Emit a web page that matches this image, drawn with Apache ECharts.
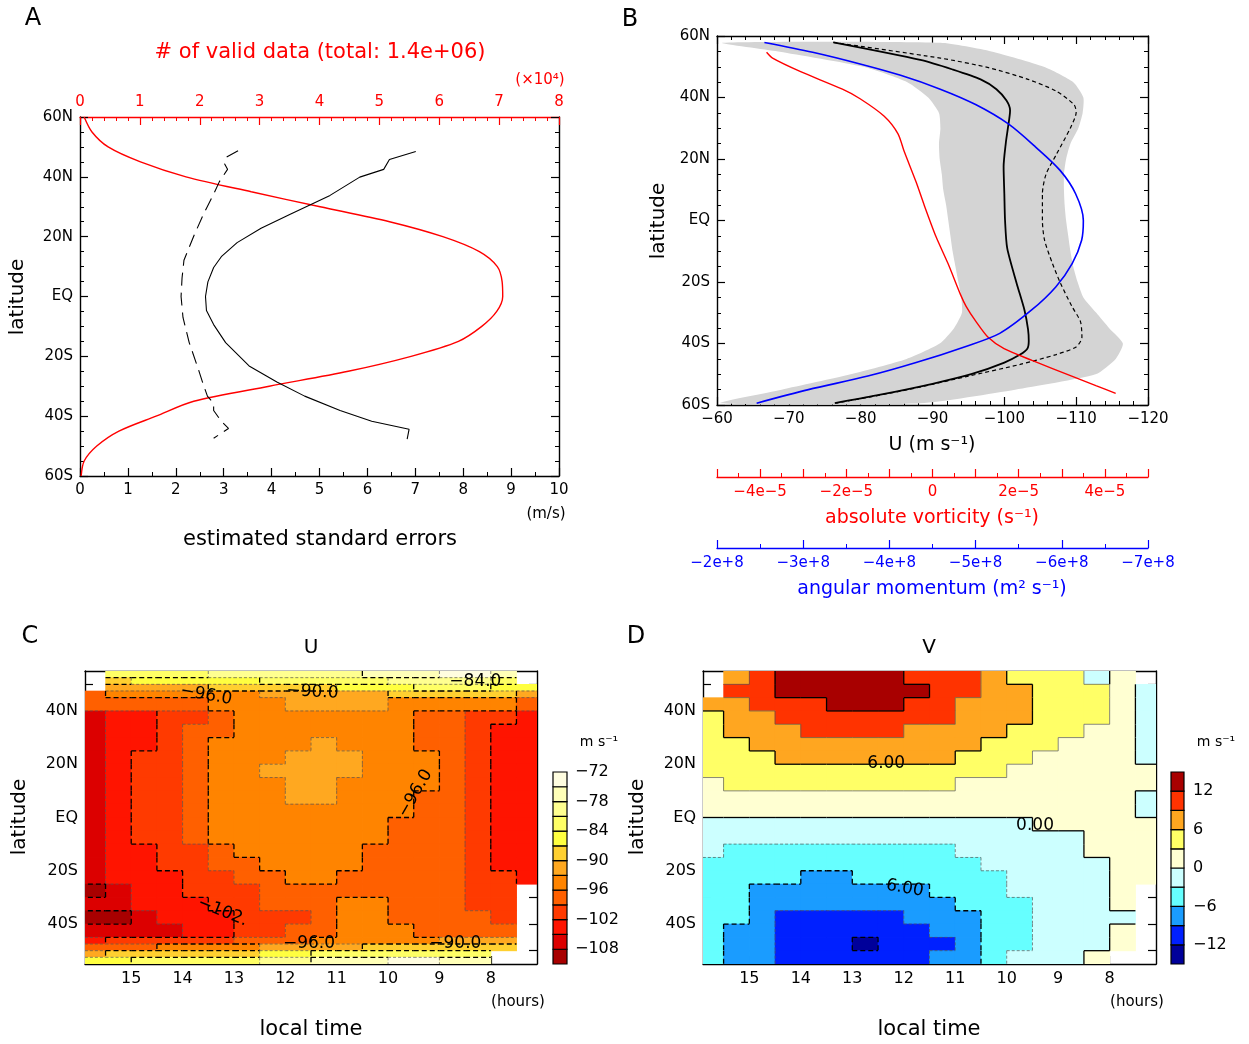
<!DOCTYPE html>
<html>
<head>
<meta charset="utf-8">
<script src="https://cdn.jsdelivr.net/npm/echarts@6/dist/echarts.min.js"></script>
<style>
  html, body { margin: 0; padding: 0; background: #fff; }
  #chart { width: 1249px; height: 1044px; }
</style>
</head>
<body>
<div id="chart"></div>
<script>
// ---------------- Panel A: sample counts and standard errors vs latitude ----------------
const countLat   = [-60,-55,-50,-45,-40,-35,-30,-25,-20,-15,-10,-5,0,5,10,15,20,25,30,35,40,45,50,55,60];
const validCount = [0.02,0.07,0.28,0.65,1.27,1.90,3.16,4.48,5.53,6.32,6.71,6.96,7.06,7.05,6.97,6.67,6.06,5.17,4.01,2.86,1.77,1.01,0.47,0.20,0.07]; // x10^4

const seSolidLat = [48.5,45.8,42.5,39.9,33.8,27.6,22.8,18.0,13.3,9.7,4.9,0,-4.7,-9.4,-15.4,-23.2,-28.6,-33.3,-38.1,-41.7,-44.4,-47.7];
const seSolid    = [7.01,6.46,6.34,5.84,5.22,4.40,3.78,3.28,2.95,2.79,2.67,2.62,2.64,2.79,3.04,3.53,4.11,4.69,5.43,6.09,6.87,6.83];
const seDashLat  = [48.7,46.5,44.3,42.5,38.4,34.2,27.6,20.4,12.1,6.1,0,-7.0,-15.4,-23.8,-29.7,-33.3,-35.7,-38.1,-41.7,-44.1,-47.4];
const seDash     = [3.30,3.05,3.02,3.08,2.91,2.79,2.58,2.38,2.17,2.13,2.11,2.15,2.28,2.46,2.58,2.66,2.79,2.79,2.95,3.10,2.79];

// ---------------- Panel B: zonal wind profiles ----------------
const uMeanLat = [57.9,52.2,49.1,45.9,42.7,39.0,35.8,30.1,25.1,17.5,8.7,0,-9.0,-20.3,-29.1,-35.4,-39.2,-41.7,-43.6,-46.2,-49.9,-53.1,-56.9,-59.4];
const uMean    = [-76.2,-88.3,-92.8,-96.7,-98.9,-100.3,-100.8,-100.5,-100.2,-99.9,-100.0,-100.1,-100.4,-101.7,-102.8,-103.3,-103.4,-103.2,-102.2,-100.0,-95.5,-90.0,-82.2,-76.4];
const uDashLat = [57.9,52.8,49.7,45.9,42.1,37.7,35.2,30.1,21.3,15.0,8.7,0,-6.4,-14.0,-20.3,-27.9,-32.9,-38.0,-41.1,-43.6,-46.8,-50.6,-55.0,-59.4];
const uDash    = [-76.2,-91.1,-97.8,-103.3,-107.2,-109.7,-110.0,-109.2,-107.2,-105.8,-105.3,-105.3,-105.6,-106.7,-107.8,-109.4,-110.6,-110.8,-110.0,-107.2,-102.2,-95.0,-86.6,-76.6];
const bandLat   = [57.8,55,50,45,40,35,30,25,20,15,10,5,0,-5,-10,-15,-20,-25,-30,-35,-40,-45,-50,-55,-59.4];
const bandInner = [-60.8,-68.5,-80.4,-86.5,-89.4,-90.9,-91.1,-90.9,-91.0,-91.3,-91.5,-91.9,-92.2,-92.5,-92.8,-93.2,-93.6,-94.0,-94.1,-93.0,-91.0,-86.4,-78.6,-69.0,-60.5];
const bandOuter = [-91.1,-98.2,-105.5,-109.6,-111.0,-110.9,-110.3,-109.2,-108.6,-108.3,-108.3,-108.4,-108.6,-108.9,-109.2,-109.6,-110.2,-111.0,-112.8,-114.6,-116.5,-115.5,-112.7,-101.5,-88.3];
const vortLat = [54.7,52.8,48.4,42.7,39.6,33.9,28.2,22.6,12.5,4.9,-5.2,-14.0,-24.1,-27.9,-32.9,-38.0,-41.7,-45.5,-50.6,-53.7,-56.2];
const absVort = [-3.85,-3.71,-3.06,-2.09,-1.68,-1.12,-0.80,-0.66,-0.38,-0.19,0.08,0.36,0.65,0.78,1.01,1.29,1.66,2.31,3.23,3.79,4.25]; // x1e-5 s^-1
const angLat = [57.9,54.7,50.9,47.2,42.7,37.7,31.4,23.8,16.3,8.7,0,-6.4,-14.0,-21.6,-29.1,-36.7,-41.1,-46.2,-50.6,-55.0,-59.4];
const angMom = [-2.55,-3.11,-3.66,-4.13,-4.59,-5.00,-5.38,-5.70,-5.98,-6.16,-6.25,-6.23,-6.12,-5.93,-5.65,-5.28,-4.87,-4.31,-3.75,-3.06,-2.46]; // x1e8 m^2 s^-1

// ---------------- Panels C and D: local time x latitude fields ----------------
const cellTimes = [15.75,15.25,14.75,14.25,13.75,13.25,12.75,12.25,11.75,11.25,10.75,10.25,9.75,9.25,8.75,8.25,7.75,7.25];
// U is sampled more finely in the sharp edge zones poleward of 45 degrees
const uRowLat    = [53.75,51.25,48.75,46.25,42.5,37.5,32.5,27.5,22.5,17.5,12.5,7.5,2.5,-2.5,-7.5,-12.5,-17.5,-22.5,-27.5,-32.5,-37.5,-42.5,-46.25,-48.75,-51.25,-53.75];
const uRowHeight = [2.5,2.5,2.5,2.5,5,5,5,5,5,5,5,5,5,5,5,5,5,5,5,5,5,5,2.5,2.5,2.5,2.5];
const vRowLat    = [52.5,47.5,42.5,37.5,32.5,27.5,22.5,17.5,12.5,7.5,2.5,-2.5,-7.5,-12.5,-17.5,-22.5,-27.5,-32.5,-37.5,-42.5,-47.5,-52.5];
const vRowHeight = [5,5,5,5,5,5,5,5,5,5,5,5,5,5,5,5,5,5,5,5,5,5];
const uGrid = [
  [null,-84,-84,-83,-82,-81,-80,-79,-79,-79,-79,-78,-77,-76,-75,-75,-77,null],
  [null,-88,-87,-86,-86,-85,-85,-84,-83,-83,-83,-82,-81,-80,-79,-80,-82,null],
  [null,-93,-93,-92,-91,-90,-89,-88,-88,-88,-87,-86,-85,-84,-84,-84,-85,-86],
  [-97,-96,-96,-95.5,-95,-94,-93.5,-92.5,-91.5,-91,-91,-90.5,-89.5,-89,-88.5,-88.5,-89,-91],
  [-98,-97.5,-97,-97,-96.5,-96,-95.5,-94,-93,-92,-92,-92,-93.5,-94,-94,-94,-95,-97],
  [-105.5,-103.5,-103,-100.5,-99.5,-97.5,-96,-95,-94,-94,-94,-94.5,-95.5,-96.2,-97.5,-99.5,-101,-102.5],
  [-106.5,-104,-103,-100.5,-98,-97,-95,-94.5,-94.5,-94.5,-94.5,-95,-95.8,-97,-98,-100.5,-102.5,-103.5],
  [-106.5,-104,-102.5,-100.5,-98,-95.5,-95,-94,-94,-92.5,-93.5,-94.5,-95.5,-96.2,-98,-100.5,-102.5,-103.5],
  [-106.5,-104,-101.5,-100.5,-97.5,-95,-94.5,-93.5,-92,-91.5,-93,-94.5,-95,-96,-98,-100.5,-102.5,-103.5],
  [-106.5,-104,-101.5,-100,-97.5,-95,-94.5,-93,-91.5,-91.5,-93,-94.5,-95,-96,-98,-100.5,-102.5,-103.5],
  [-106.5,-104,-101.5,-100,-97.5,-95,-94.5,-93.5,-92,-91.5,-93.5,-94.5,-95,-96,-98,-100.5,-102.5,-103.5],
  [-106.5,-104,-101.5,-100,-97.5,-95,-94.5,-94,-92.5,-92.5,-94,-94.5,-95.5,-96.5,-98,-100.5,-102.5,-103.5],
  [-106.5,-104,-101.5,-100,-97.5,-95,-94.5,-94.5,-93.5,-93.5,-94.5,-95,-95.9,-97,-98,-100.5,-102.5,-103.5],
  [-106.5,-104,-101.5,-100,-97.5,-95,-94.5,-94.5,-94.5,-94.5,-94.5,-95.5,-96.5,-97.5,-98,-100.5,-102.5,-103.5],
  [-106.5,-104,-102,-100.5,-98,-95.5,-95,-94.5,-94.5,-94.5,-94.5,-95.8,-97,-97.5,-98,-100.5,-102.5,-103.5],
  [-106.5,-104.5,-103,-101,-99.5,-97.5,-95,-94.5,-94.5,-94.5,-95,-96.5,-97.5,-97.5,-98,-100.5,-102.5,-103.5],
  [-107,-104.5,-103.5,-102,-100.5,-98.5,-96.5,-95,-94.5,-94.5,-95.5,-97,-97.5,-98,-98.5,-100.5,-102.5,-103.5],
  [-107,-105,-103.5,-103,-101,-100,-98,-96.5,-95,-95,-96.5,-97.5,-98,-98,-98.5,-100.5,-101.5,-103.5],
  [-108.5,-106,-104,-103.5,-102,-100.5,-99.5,-97.5,-96.5,-97,-97.5,-97.5,-98,-98.5,-98.5,-100,-101.5,null],
  [-107,-106.5,-105,-104,-103,-102,-100.5,-99,-97.5,-97.5,-95.5,-95.5,-97.5,-98,-99,-99.5,-101,null],
  [-109.5,-108.5,-106,-105,-104,-103,-101,-100,-99.5,-98.5,-96,-95.5,-96.5,-97,-98,-99,-100,null],
  [-107,-106.5,-106,-105.5,-104,-103,-102,-100,-97,-96.5,-95.5,-95.5,-96,-96.5,-97,-97.5,-98,null],
  [-103,-102,-101,-100.5,-100,-99.5,-98.5,-97,-96.5,-96,-95,-94.5,-94,-93.5,-92.5,-92,-93,null],
  [-98,-97,-96.5,-96,-95.5,-95,-94,-92.5,-92,-91.5,-90.5,-90,-89.5,-89,-88.5,-88.5,-90,null],
  [-91,-90,-89.5,-89,-88.5,-88,-87.5,-86,-85,-84,-83.5,-83,-82.5,-82,-82,-83,null,null],
  [-85,-84.5,-84,-83.5,-83,-82.5,-82,-80,-79,-78,-77,-76,-75,-75,-76,-78,null,null]
];
const vGrid = [
  [null,8,11.5,13.5,14.5,14.5,14.5,13,11,10.5,9,7.5,5.5,4.5,3.5,-0.3,1,null],
  [null,9,11,12.5,13,13.5,13.5,13.5,12.5,11,9.5,7.5,6.5,5,4.5,3.5,1.5,-1],
  [6.5,8.5,10.5,11.5,11.8,12,12.3,12.3,11,10,8.8,7.5,6.3,5,4.5,3.3,1.5,-1],
  [5.5,7,8.5,9.5,10.5,11,11,10.8,10.5,9.8,8.5,7.5,6.2,5,4,3.1,1.5,-1],
  [4.8,6.3,7.5,8.5,9.3,9.5,9.5,9.2,8.7,8.2,7.5,6.5,5.5,4.5,3.5,2.5,1.5,-1],
  [4.3,5.5,6.5,7.5,8,8.3,8.3,8.2,8,7.5,6.8,5.7,4.8,3.8,2.7,2,1.3,-1],
  [3.8,4.5,5.5,6.3,6.8,7,7,6.8,6.5,6,5.5,4.8,3.8,2.8,2.3,1.8,1.2,-0.5],
  [3.3,4,4.8,5.3,5.6,5.7,5.7,5.5,5.3,5,4.6,3.8,2.8,2.3,2,1.5,1,0.5],
  [2.7,3.3,3.8,4.2,4.4,4.5,4.5,4.3,4,3.5,2.8,2.4,2,1.8,1.5,1.3,1,0.5],
  [2,2.3,2.6,2.8,2.9,2.9,2.9,2.8,2.6,2.4,2.1,1.9,1.6,1.5,1.3,1.1,1,-0.5],
  [1,1,1,1,1,1,1,1,1,1,1,1,1,1,1,1,1,-0.5],
  [-0.5,-0.5,-0.5,-0.5,-0.5,-0.5,-0.5,-0.5,-0.5,-0.5,-0.5,-0.5,-0.2,0.3,0.5,1,1,0.5],
  [-1.2,-1.2,-1.2,-1.2,-1.2,-1.2,-1.2,-1.2,-1.2,-1.2,-1.2,-1.2,-1.2,-0.8,-0.5,0.3,1,1],
  [-2.5,-3.2,-3.6,-4,-4.2,-4.2,-4.2,-4,-3.8,-3.5,-2.8,-2,-1.5,-1.2,-0.8,0.3,0.8,1],
  [-3.5,-4,-4.5,-5,-5.2,-5.3,-5.3,-5,-4.7,-4.2,-3.8,-2.8,-2,-1.5,-1,-0.3,0.5,1],
  [-4,-4.5,-5.3,-5.8,-6.3,-6.1,-5.8,-5.5,-5,-4.5,-4,-3.2,-2.5,-1.8,-1.2,-0.5,0.5,1],
  [-4.5,-5.2,-6.2,-7,-7.5,-7.8,-7.5,-7,-6.3,-5.7,-5,-3.8,-2.8,-2,-1.5,-0.2,0.5,null],
  [-4.5,-5.7,-7,-8,-8.5,-8.8,-8.8,-8.3,-7.5,-6.8,-5.5,-4.2,-3.2,-2,-1.5,-0.3,0.5,null],
  [-4.5,-6,-7.5,-9.2,-10,-10.2,-10,-9.2,-8.3,-7.5,-6.5,-5,-3.8,-2.5,-1.5,-0.3,-0.3,null],
  [-4.5,-6.5,-8.5,-9.8,-10.5,-11,-11,-10.5,-9.2,-8.3,-7,-5,-3.5,-2.5,-1.5,-0.5,0.5,null],
  [-4.5,-6.5,-8.5,-10.5,-11,-11.5,-12.3,-11.5,-10.5,-10,-8.8,-5,-3.5,-2.8,-1.5,-0.5,0.5,null],
  [-4.5,-6.5,-8.5,-10.8,-11,-11,-11,-10.5,-9.5,-8,-6.5,-4,-2.5,-2,-1,0.3,null,null]
];

// shading levels (lower bounds of each colour band, plus the top bound)
const uLevels = [-111,-108,-105,-102,-99,-96,-93,-90,-87,-84,-81,-78,-75,-72];
const uColors = ['#a80000','#dc0000','#ff1400','#ff3a00','#ff6000','#ff8400','#ffa820','#ffd030','#ffff40','#ffff66','#ffff90','#ffffb8','#fffde0'];
const vLevels = [-15,-12,-9,-6,-3,0,3,6,9,12,15];
const vColors = ['#00009a','#0020ff','#1a9cff','#66ffff','#ccffff','#ffffd2','#ffff66','#ffa620','#ff3300','#a80000'];
const uBarTicks = [-108,-102,-96,-90,-84,-78,-72];
const vBarTicks = [-12,-6,0,6,12];

// contour annotations
const uLabelTime  = [13.54,11.47,8.30,9.47,13.22,11.54,8.69];
const uLabelLat   = [45.9,47.1,50.9,9.0,-35.4,-47.3,-47.3];
const uLabelAngle = [-10,-3,0,60,-22,0,0];
const uLabelText  = ['\u221296.0','\u221290.0','\u221284.0','\u221296.0','\u2212102.','\u221296.0','\u221290.0'];
const vLabelTime  = [12.34,9.45,11.98];
const vLabelLat   = [20.3,-2.9,-26.6];
const vLabelAngle = [0,0,-10];
const vLabelText  = ['6.00','0.00','6.00'];

const CELL_DT = 0.5;
const FONT = 'DejaVu Sans';
const MINUS = '\u2212';

function latText(v) { const r = Math.round(v); return r === 0 ? 'EQ' : Math.abs(r) + (r > 0 ? 'N' : 'S'); }
function negText(v) { const r = Math.round(v * 1000) / 1000; return (r < 0 ? MINUS : '') + Math.abs(r); }
function levelIndex(v, levels) {
  for (let i = 0; i < levels.length - 2; i++) { if (v < levels[i + 1]) return i; }
  return levels.length - 2;
}
function gridCells(grid, rowLat, rowH) {
  const out = [];
  grid.forEach((row, r) => row.forEach((v, c) => { if (v !== null) out.push([cellTimes[c], rowLat[r], v, rowH[r]]); }));
  return out;
}

function axis(o) {
  const color = o.color || '#000';
  const a = {
    type: 'value', gridIndex: o.grid, position: o.position, min: o.min, max: o.max,
    inverse: !!o.inverse, offset: o.offset || 0, show: o.show !== false,
    axisLine: { show: o.line !== false, onZero: false, lineStyle: { color, width: 1.4 } },
    axisTick: { show: o.tick !== false, inside: true, length: o.tickLen || 8, lineStyle: { color, width: 1.2 } },
    minorTick: { show: !!o.minor, splitNumber: o.minor || 5, length: o.minorLen || 4, lineStyle: { color, width: 1 } },
    splitLine: { show: false }, minorSplitLine: { show: false }, splitArea: { show: false },
    axisLabel: { show: o.label !== false, color, fontFamily: FONT, fontSize: o.fontSize || 15,
      margin: o.margin || 7, formatter: o.fmt, showMinLabel: true, showMaxLabel: true, hideOverlap: false }
  };
  if (o.interval != null) a.interval = o.interval;
  if (o.labelValues) a.axisLabel.customValues = o.labelValues;
  if (o.tickValues) a.axisTick.customValues = o.tickValues;
  return a;
}

const zip = (xs, ys) => xs.map((x, i) => [x, ys[i]]);
const hourTicks = [8, 9, 10, 11, 12, 13, 14, 15];
const latTicks = [-50, -40, -30, -20, -10, 0, 10, 20, 30, 40, 50];
const latLabels = [-40, -20, 0, 20, 40];

function txt(text, x, y, opt) {
  opt = opt || {};
  return {
    type: 'text', x, y, rotation: opt.rot || 0, silent: true,
    style: { text, fill: opt.color || '#000', font: (opt.size || 19) + 'px "' + FONT + '"',
      textAlign: opt.align || 'center', textVerticalAlign: 'middle', align: opt.align || 'center', verticalAlign: 'middle' }
  };
}

// filled cells of a gridded field
function cellSeries(xi, yi, grid, rowLat, rowH, levels, colors) {
  return {
    type: 'custom', xAxisIndex: xi, yAxisIndex: yi, clip: true, silent: true, z: 1,
    data: gridCells(grid, rowLat, rowH),
    renderItem(params, api) {
      const t = api.value(0), la = api.value(1), v = api.value(2), h = api.value(3);
      const a = api.coord([t + CELL_DT / 2, la + h / 2]);
      const b = api.coord([t - CELL_DT / 2, la - h / 2]);
      const x = Math.min(a[0], b[0]), y = Math.min(a[1], b[1]);
      return { type: 'rect', shape: { x: x - 0.3, y: y - 0.3, width: Math.abs(a[0] - b[0]) + 0.8, height: Math.abs(a[1] - b[1]) + 0.8 },
        style: { fill: colors[levelIndex(v, levels)] } };
    }
  };
}

// outlines drawn along cell edges wherever neighbouring cells fall in different bands
function edgeSeries(xi, yi, grid, rowLat, rowH, levels) {
  return {
    type: 'custom', xAxisIndex: xi, yAxisIndex: yi, clip: true, silent: true, z: 2,
    data: [[cellTimes[0], rowLat[0]]],
    renderItem(params, api) {
      const children = [];
      const styleFor = (ia, ib) => {
        const lv = levels[Math.max(ia, ib)];
        const major = lv % 6 === 0;
        return { stroke: major ? '#000' : '#555', lineWidth: major ? 1.3 : 0.7, fill: null,
          lineDash: lv < 0 ? (major ? [5, 3] : [3, 2]) : null };
      };
      const seg = (p, q, st) => children.push({ type: 'line', shape: { x1: p[0], y1: p[1], x2: q[0], y2: q[1] }, style: st });
      for (let r = 0; r < grid.length; r++) {
        const la = rowLat[r], h = rowH[r];
        for (let c = 0; c < grid[r].length; c++) {
          const v = grid[r][c];
          if (v === null) continue;
          const iv = levelIndex(v, levels);
          const t = cellTimes[c];
          if (c + 1 < grid[r].length && grid[r][c + 1] !== null) {
            const iw = levelIndex(grid[r][c + 1], levels);
            if (iw !== iv) seg(api.coord([t - CELL_DT / 2, la + h / 2]), api.coord([t - CELL_DT / 2, la - h / 2]), styleFor(iv, iw));
          }
          if (r + 1 < grid.length && grid[r + 1][c] !== null) {
            const iw = levelIndex(grid[r + 1][c], levels);
            if (iw !== iv) seg(api.coord([t + CELL_DT / 2, la - h / 2]), api.coord([t - CELL_DT / 2, la - h / 2]), styleFor(iv, iw));
          }
        }
      }
      return { type: 'group', children };
    }
  };
}

function labelSeries(xi, yi, times, lats, angles, texts) {
  return {
    type: 'custom', xAxisIndex: xi, yAxisIndex: yi, silent: true, z: 5,
    data: times.map((t, i) => [t, lats[i], angles[i]]),
    renderItem(params, api) {
      const p = api.coord([api.value(0), api.value(1)]);
      return { type: 'text', x: p[0], y: p[1], rotation: api.value(2) * Math.PI / 180,
        style: { text: texts[params.dataIndex], fill: '#000', font: '17px "' + FONT + '"',
          textAlign: 'center', textVerticalAlign: 'middle', align: 'center', verticalAlign: 'middle' } };
    }
  };
}
function barSeries(xi, yi, levels, colors) {
  return {
    type: 'custom', xAxisIndex: xi, yAxisIndex: yi, silent: true,
    data: colors.map((c, i) => [0.5, levels[i], levels[i + 1], i]),
    renderItem(params, api) {
      const a = api.coord([0, api.value(2)]), b = api.coord([1, api.value(1)]);
      return { type: 'rect', shape: { x: a[0], y: a[1], width: b[0] - a[0], height: b[1] - a[1] },
        style: { fill: colors[api.value(3)], stroke: '#000', lineWidth: 1.2 } };
    }
  };
}

const grids = [
  { left: 80, top: 117, width: 479, height: 359 },   // A
  { left: 717, top: 36, width: 431, height: 369 },   // B
  { left: 85, top: 671, width: 452, height: 293 },   // C
  { left: 553, top: 772, width: 14, height: 192 },   // C colour bar
  { left: 703, top: 671, width: 453, height: 293 },  // D
  { left: 1171, top: 772, width: 13, height: 192 }   // D colour bar
].map(g => Object.assign({ containLabel: false, outerBoundsMode: 'none', show: false }, g));

const xAxes = [
  axis({ grid: 0, position: 'bottom', min: 0, max: 10, interval: 1, minor: 2, fmt: v => String(v) }),
  axis({ grid: 0, position: 'top', min: 0, max: 8, interval: 1, minor: 5, color: '#ff0000', fmt: v => String(v) }),
  axis({ grid: 1, position: 'bottom', min: -120, max: -60, interval: 10, minor: 5, inverse: true, fmt: negText }),
  axis({ grid: 1, position: 'top', min: -120, max: -60, interval: 10, minor: 5, inverse: true, label: false }),
  axis({ grid: 1, position: 'bottom', offset: 72, min: -5, max: 5, interval: 1, minor: 2, color: '#ff0000', margin: 8,
    fmt: v => { const r = Math.round(v); if (r % 2 !== 0) return ''; return r === 0 ? '0' : (r < 0 ? MINUS : '') + Math.abs(r) + 'e' + MINUS + '5'; } }),
  axis({ grid: 1, position: 'bottom', offset: 143, min: -7, max: -2, interval: 1, minor: 2, inverse: true, color: '#0000ff', margin: 8,
    fmt: v => MINUS + Math.abs(Math.round(v)) + 'e+8' }),
  axis({ grid: 2, position: 'bottom', min: 7.1, max: 15.9, inverse: true, tickValues: hourTicks, labelValues: hourTicks, fmt: v => String(Math.round(v)), fontSize: 16 }),
  axis({ grid: 2, position: 'top', min: 7.1, max: 15.9, inverse: true, tickValues: hourTicks, label: false }),
  axis({ grid: 3, position: 'bottom', min: 0, max: 1, show: false }),
  axis({ grid: 4, position: 'bottom', min: 7.1, max: 15.9, inverse: true, tickValues: hourTicks, labelValues: hourTicks, fmt: v => String(Math.round(v)), fontSize: 16 }),
  axis({ grid: 4, position: 'top', min: 7.1, max: 15.9, inverse: true, tickValues: hourTicks, label: false }),
  axis({ grid: 5, position: 'bottom', min: 0, max: 1, show: false })
];
const yAxes = [
  axis({ grid: 0, position: 'left', min: -60, max: 60, interval: 20, minor: 4, fmt: latText }),
  axis({ grid: 0, position: 'right', min: -60, max: 60, interval: 20, minor: 4, label: false }),
  axis({ grid: 1, position: 'left', min: -60, max: 60, interval: 20, minor: 4, fmt: latText }),
  axis({ grid: 1, position: 'right', min: -60, max: 60, interval: 20, minor: 4, label: false }),
  axis({ grid: 2, position: 'left', min: -55, max: 55, tickValues: latTicks, labelValues: latLabels, fmt: latText, fontSize: 16 }),
  axis({ grid: 2, position: 'right', min: -55, max: 55, tickValues: latTicks, label: false }),
  axis({ grid: 3, position: 'right', min: -111, max: -72, tick: false, line: false, labelValues: uBarTicks, fmt: negText, fontSize: 16, margin: 8 }),
  axis({ grid: 4, position: 'left', min: -55, max: 55, tickValues: latTicks, labelValues: latLabels, fmt: latText, fontSize: 16 }),
  axis({ grid: 4, position: 'right', min: -55, max: 55, tickValues: latTicks, label: false }),
  axis({ grid: 5, position: 'right', min: -15, max: 15, tick: false, line: false, labelValues: vBarTicks, fmt: negText, fontSize: 16, margin: 9 })
];

const line = (xi, yi, data, color, width, type, smooth) => ({
  type: 'line', xAxisIndex: xi, yAxisIndex: yi, data, symbol: 'none', smooth: smooth || false,
  silent: true, z: 3, lineStyle: { color, width, type: type || 'solid' }
});

const series = [
  line(1, 0, zip(validCount, countLat), '#ff0000', 1.4, 'solid', 0.3),
  line(0, 0, zip(seSolid, seSolidLat), '#000', 1.1),
  line(0, 0, zip(seDash, seDashLat), '#000', 1.1, [13, 7]),
  {
    type: 'custom', xAxisIndex: 2, yAxisIndex: 2, clip: true, silent: true, z: 1,
    data: [[-90, 0]],
    renderItem(params, api) {
      const pts = [];
      bandLat.forEach((la, i) => pts.push(api.coord([bandInner[i], la])));
      for (let i = bandLat.length - 1; i >= 0; i--) pts.push(api.coord([bandOuter[i], bandLat[i]]));
      return { type: 'polygon', shape: { points: pts, smooth: 0.2 }, style: { fill: '#d4d4d4' } };
    }
  },
  line(2, 2, zip(uMean, uMeanLat), '#000', 1.8, 'solid', 0.25),
  line(2, 2, zip(uDash, uDashLat), '#000', 1.2, [4, 3], 0.25),
  line(4, 2, zip(absVort, vortLat), '#ff0000', 1.4, 'solid', 0.25),
  line(5, 2, zip(angMom, angLat), '#0000ff', 1.6, 'solid', 0.3),
  cellSeries(6, 4, uGrid, uRowLat, uRowHeight, uLevels, uColors),
  edgeSeries(6, 4, uGrid, uRowLat, uRowHeight, uLevels),
  labelSeries(6, 4, uLabelTime, uLabelLat, uLabelAngle, uLabelText),
  barSeries(8, 6, uLevels, uColors),
  cellSeries(9, 7, vGrid, vRowLat, vRowHeight, vLevels, vColors),
  edgeSeries(9, 7, vGrid, vRowLat, vRowHeight, vLevels),
  labelSeries(9, 7, vLabelTime, vLabelLat, vLabelAngle, vLabelText),
  barSeries(11, 9, vLevels, vColors)
];

const graphic = [
  txt('A', 33, 19, { size: 24 }),
  txt('# of valid data (total: 1.4e+06)', 320, 53, { color: '#ff0000', size: 21 }),
  txt('(\u00d710\u2074)', 540, 80, { color: '#ff0000', size: 15 }),
  txt('(m/s)', 546, 514, { size: 15 }),
  txt('estimated standard errors', 320, 540, { size: 21 }),
  txt('latitude', 18, 297, { size: 20, rot: Math.PI / 2 }),
  txt('B', 630, 20, { size: 24 }),
  txt('latitude', 659, 221, { size: 20, rot: Math.PI / 2 }),
  txt('U (m s\u207b\u00b9)', 932, 445, { size: 19 }),
  txt('absolute vorticity (s\u207b\u00b9)', 932, 518, { size: 19, color: '#ff0000' }),
  txt('angular momentum (m\u00b2 s\u207b\u00b9)', 932, 589, { size: 19, color: '#0000ff' }),
  txt('C', 30, 637, { size: 24 }),
  txt('U', 311, 648, { size: 20 }),
  txt('(hours)', 518, 1002, { size: 15 }),
  txt('local time', 311, 1030, { size: 21 }),
  txt('latitude', 20, 817, { size: 20, rot: Math.PI / 2 }),
  txt('m s\u207b\u00b9', 599, 742, { size: 14 }),
  txt('D', 636, 637, { size: 24 }),
  txt('V', 929, 648, { size: 20 }),
  txt('(hours)', 1137, 1002, { size: 15 }),
  txt('local time', 929, 1030, { size: 21 }),
  txt('latitude', 638, 817, { size: 20, rot: Math.PI / 2 }),
  txt('m s\u207b\u00b9', 1216, 742, { size: 14 })
];

const chart = echarts.init(document.getElementById('chart'), null, { renderer: 'canvas', width: 1249, height: 1044 });
chart.setOption({
  animation: false,
  backgroundColor: '#ffffff',
  textStyle: { fontFamily: FONT },
  grid: grids,
  xAxis: xAxes,
  yAxis: yAxes,
  series,
  graphic
});
</script>
</body>
</html>
